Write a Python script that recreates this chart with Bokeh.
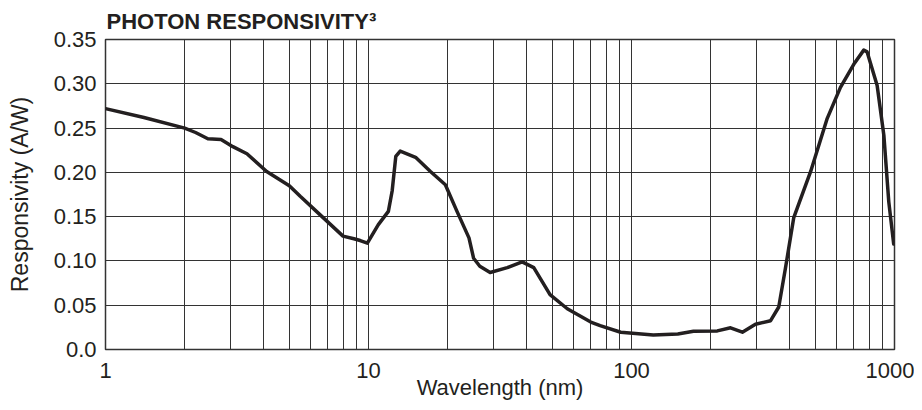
from bokeh.plotting import figure
from bokeh.models import Range1d, FixedTicker
from bokeh.embed import file_html
from bokeh.resources import INLINE

# Data
wavelength_nm = [1, 1.4, 2, 2.2, 2.45, 2.75, 3.05, 3.45, 4.1, 5.0,
                 5.5, 6.55, 8.0, 8.8, 9.3, 9.9, 10.9, 11.9, 12.3, 12.7,
                 13.2, 15.1, 17.2, 19.6, 21.7, 24.1, 25.1, 26.5, 29, 33.7,
                 38.4, 42.5, 49, 57, 70, 76, 91, 121, 150, 172,
                 212, 238, 264, 296, 338, 363, 385, 414, 480, 555,
                 623, 700, 764, 787, 859, 911, 951, 993]
responsivity = [0.272, 0.262, 0.250, 0.245, 0.238, 0.237, 0.229, 0.221, 0.201, 0.185,
                0.173, 0.152, 0.128, 0.125, 0.123, 0.120, 0.141, 0.156, 0.179, 0.218,
                0.224, 0.217, 0.201, 0.186, 0.156, 0.126, 0.103, 0.094, 0.087, 0.0925,
                0.099, 0.0925, 0.062, 0.046, 0.031, 0.027, 0.0195, 0.0165, 0.0176, 0.0205,
                0.021, 0.0245, 0.0195, 0.0285, 0.0325, 0.048, 0.092, 0.149, 0.201, 0.261,
                0.296, 0.322, 0.338, 0.336, 0.298, 0.242, 0.167, 0.119]

x_major_ticks = [1, 10, 100, 1000]
x_minor_ticks = [2, 3, 4, 5, 6, 7, 8, 9,
                 20, 30, 40, 50, 60, 70, 80, 90,
                 200, 300, 400, 500, 600, 700, 800, 900]
y_ticks = [0.0, 0.05, 0.10, 0.15, 0.20, 0.25, 0.30, 0.35]
y_tick_labels = ["0.0", "0.05", "0.10", "0.15", "0.20", "0.25", "0.30", "0.35"]

title_text = "PHOTON RESPONSIVITY\u00b3"
x_label = "Wavelength (nm)"
y_label = "Responsivity (A/W)"

FONT = "Liberation Sans"
TEXT_COLOR = "#231f20"

p = figure(width=914, height=402, x_axis_type="log",
           x_range=Range1d(1, 1000), y_range=Range1d(0, 0.35),
           output_backend="svg", toolbar_location=None,
           min_border_left=105, min_border_right=20,
           min_border_top=38, min_border_bottom=53,
           title=title_text)

p.title.text_font = FONT
p.title.text_font_size = "22px"
p.title.text_font_style = "bold"
p.title.text_color = TEXT_COLOR
p.title.align = "left"
p.title.offset = 1
p.title.standoff = 12

p.background_fill_color = "white"
p.border_fill_color = "white"
p.outline_line_color = "#333333"
p.outline_line_width = 1.5

p.xaxis.ticker = FixedTicker(ticks=x_major_ticks, minor_ticks=x_minor_ticks)
p.xaxis.major_label_overrides = {1: "1", 10: "10", 100: "100", 1000: "1000"}
p.yaxis.ticker = FixedTicker(ticks=y_ticks)
p.yaxis.major_label_overrides = {t: l for t, l in zip(y_ticks, y_tick_labels)}

for ax in (p.xaxis, p.yaxis):
    ax.axis_line_color = None
    ax.major_tick_line_color = None
    ax.minor_tick_line_color = None
    ax.major_tick_out = 0
    ax.minor_tick_out = 0
    ax.major_tick_in = 0
    ax.minor_tick_in = 0
    ax.major_label_text_font = FONT
    ax.major_label_text_font_size = "22px"
    ax.major_label_text_color = TEXT_COLOR
    ax.axis_label_text_font = FONT
    ax.axis_label_text_font_style = "normal"
    ax.axis_label_text_color = TEXT_COLOR

p.xaxis.axis_label_text_font_size = "22px"
p.yaxis.axis_label_text_font_size = "23px"

p.xaxis.axis_label = x_label
p.yaxis.axis_label = y_label
p.xaxis.major_label_standoff = 13
p.xaxis.axis_label_standoff = -6
p.yaxis.major_label_standoff = 9
p.yaxis.axis_label_standoff = 18

p.xgrid.grid_line_color = "#333333"
p.xgrid.grid_line_width = 1
p.xgrid.minor_grid_line_color = "#333333"
p.xgrid.minor_grid_line_width = 1
p.ygrid.grid_line_color = "#333333"
p.ygrid.grid_line_width = 1

p.line(wavelength_nm, responsivity, line_color="#231f20", line_width=3.5,
       line_join="round", line_cap="round")

open("out.html", "w").write(file_html(p, INLINE))
